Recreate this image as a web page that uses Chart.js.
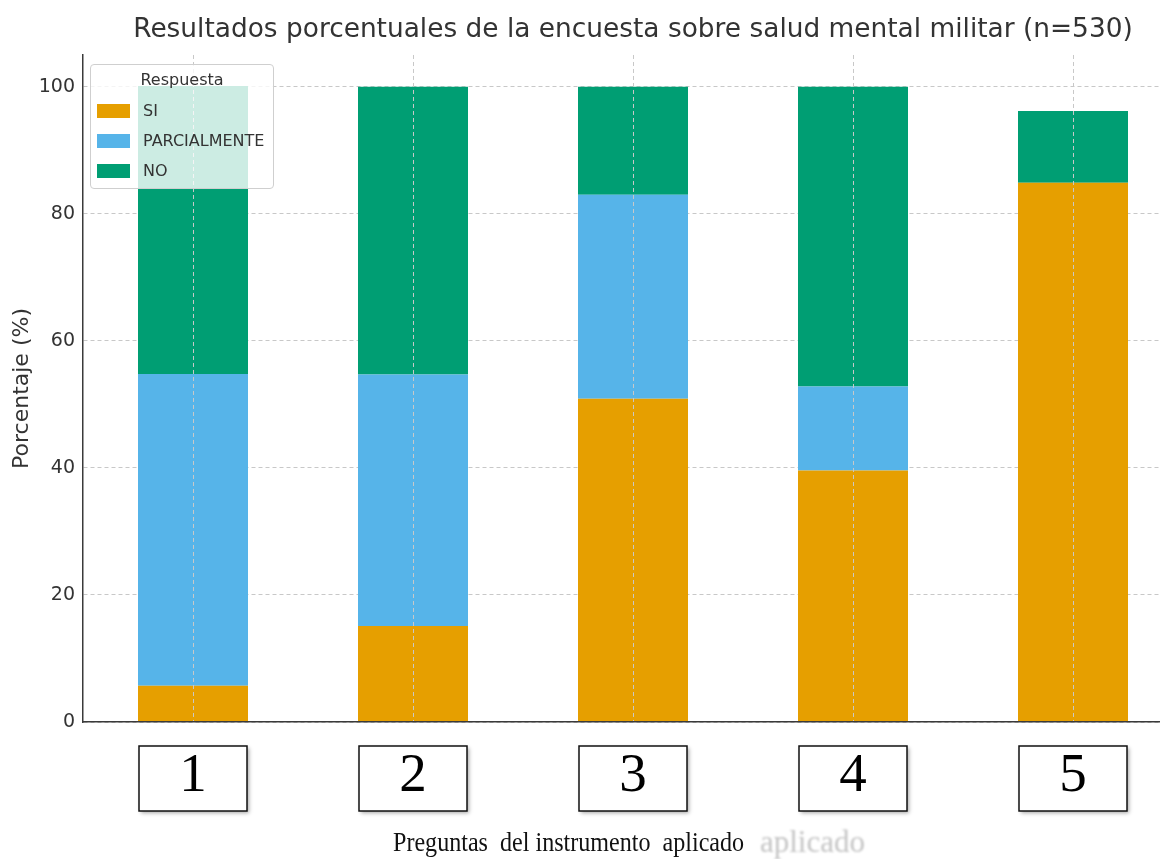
<!DOCTYPE html>
<html lang="es">
<head>
<meta charset="utf-8">
<title>Resultados porcentuales de la encuesta sobre salud mental militar</title>
<script src="https://cdn.jsdelivr.net/npm/chart.js@4.4.1/dist/chart.umd.min.js"></script>
<style>
  html, body { margin: 0; padding: 0; background: #fff; overflow: hidden; width: 1160px; height: 859px; }
  #wrap { position: relative; width: 1160px; height: 859px; overflow: hidden; }
  #c { position: absolute; left: 0; top: 0; }
  #legend {
    position: absolute; left: 90px; top: 64px; width: 182px; height: 123px;
    background: rgba(255,255,255,0.8); border: 1px solid #cfcfcf; border-radius: 4px;
    font-family: "DejaVu Sans", sans-serif; font-size: 16px; color: #333;
  }
  #legend .ttl { position: absolute; left: 0; width: 100%; top: 5px; text-align: center; }
  #legend .row { position: absolute; left: 6px; height: 18px; line-height: 18px; white-space: nowrap; }
  #legend .sw { display: inline-block; width: 33px; height: 14px; vertical-align: -2px; margin-right: 13px; }
</style>
</head>
<body>
<div id="wrap">
  <canvas id="c" width="1266" height="859"></canvas>
  <div id="legend"></div>
</div>
<script>
// Preguntas del instrumento (eje X)
const categories = ['1', '2', '3', '4', '5'];
// Porcentaje de respuestas por pregunta (n = 530)
const siValues = [5.7, 15.1, 50.9, 39.6, 84.9];
const parcialValues = [49.1, 39.6, 32.1, 13.2, 0];
const noValues = [45.3, 45.3, 17.0, 47.2, 11.3];
// Marcas del eje Y
const yTicks = [0, 20, 40, 60, 80, 100];

const seriesLabels = ['SI', 'PARCIALMENTE', 'NO'];
const seriesColors = ['#E69F00', '#56B4E9', '#009E73'];

const chartTitle = 'Resultados porcentuales de la encuesta sobre salud mental militar (n=530)';
const xTitle = 'Preguntas  del instrumento  aplicado';

// Recuadros blancos detrás de cada número de pregunta
const tickBoxes = {
  id: 'tickBoxes',
  beforeDatasetsDraw(chart) {
    const ctx = chart.ctx;
    const xs = chart.scales.x;
    ctx.save();
    xs.ticks.forEach((t, i) => {
      const cx = xs.getPixelForTick(i);
      ctx.shadowColor = 'rgba(0,0,0,0.35)';
      ctx.shadowBlur = 4;
      ctx.shadowOffsetX = 2;
      ctx.shadowOffsetY = 2;
      ctx.fillStyle = '#fff';
      ctx.fillRect(cx - 54, 746, 108, 65);
      ctx.shadowColor = 'transparent';
      ctx.strokeStyle = '#111';
      ctx.lineWidth = 1.5;
      ctx.strokeRect(cx - 54, 746, 108, 65);
    });
    ctx.restore();
  }
};

// Título del eje X en letra serif
const xAxisTitle = {
  id: 'xAxisTitle',
  afterDraw(chart) {
    const ctx = chart.ctx;
    ctx.save();
    // copia tenue desplazada
    ctx.filter = 'blur(1.2px)';
    ctx.fillStyle = '#c4c4c4';
    ctx.font = '31px "Liberation Serif", serif';
    ctx.textBaseline = 'alphabetic';
    ctx.fillText('aplicado', 760, 852);
    ctx.filter = 'none';
    ctx.fillStyle = '#111';
    ctx.font = '28px "Liberation Serif", serif';
    ctx.translate(393, 851);
    ctx.scale(0.86, 1);
    ctx.fillText(xTitle, 0, 0);
    ctx.restore();
  }
};

const datasets = [siValues, parcialValues, noValues].map((vals, i) => ({
  label: seriesLabels[i],
  data: vals,
  backgroundColor: seriesColors[i],
  borderWidth: 0,
  barPercentage: 0.5,
  categoryPercentage: 1.0
}));

const chart = new Chart(document.getElementById('c'), {
  type: 'bar',
  data: { labels: categories, datasets },
  options: {
    responsive: false,
    animation: false,
    devicePixelRatio: 1,
    layout: { padding: 0 },
    plugins: {
      legend: { display: false },
      tooltip: { enabled: false },
      title: {
        display: true,
        text: chartTitle,
        color: '#333',
        font: { family: '"DejaVu Sans", sans-serif', size: 26.4, weight: 'normal' },
        padding: { top: 14, bottom: 9.3 }
      }
    },
    scales: {
      x: {
        stacked: true,
        offset: true,
        grid: { offset: false, color: '#c8c8c8', lineWidth: 1, drawTicks: false, z: 1 },
        border: { color: '#3a3a3a', width: 1.5, dash: [4, 3], z: 1 },
        ticks: {
          z: 1,
          color: '#000',
          font: { family: '"Liberation Serif", serif', size: 55 },
          padding: 22,
          maxRotation: 0,
          autoSkip: false
        },
        afterFit(s) { s.height = 137; }
      },
      y: {
        stacked: true,
        min: 0,
        max: 105,
        grid: { color: '#c8c8c8', lineWidth: 1, drawTicks: false },
        border: { color: '#3a3a3a', width: 1.5, dash: [4, 3] },
        ticks: {
          color: '#333',
          font: { family: '"DejaVu Sans", sans-serif', size: 19 },
          padding: 8
        },
        afterBuildTicks(s) { s.ticks = yTicks.map(v => ({ value: v })); },
        title: {
          display: true,
          text: 'Porcentaje (%)',
          color: '#333',
          font: { family: '"DejaVu Sans", sans-serif', size: 22 },
          padding: { top: 9, bottom: 0 }
        },
        afterFit(s) { s.width = 83; }
      },
      // margen derecho del área de trazado
      yRight: {
        position: 'right',
        display: true,
        min: 0,
        max: 105,
        grid: { drawOnChartArea: false, drawTicks: false },
        border: { display: false },
        ticks: { display: false },
        afterFit(s) { s.width = 83; }
      }
    }
  },
  plugins: [tickBoxes, xAxisTitle]
});

// Leyenda "Respuesta" sobre el área del gráfico
const legend = document.getElementById('legend');
legend.innerHTML = '<div class="ttl">Respuesta</div>' +
  chart.data.datasets.map((d, i) =>
    `<div class="row" style="top:${37 + i * 30}px"><span class="sw" style="background:${d.backgroundColor}"></span>${d.label}</div>`
  ).join('');
</script>
</body>
</html>
